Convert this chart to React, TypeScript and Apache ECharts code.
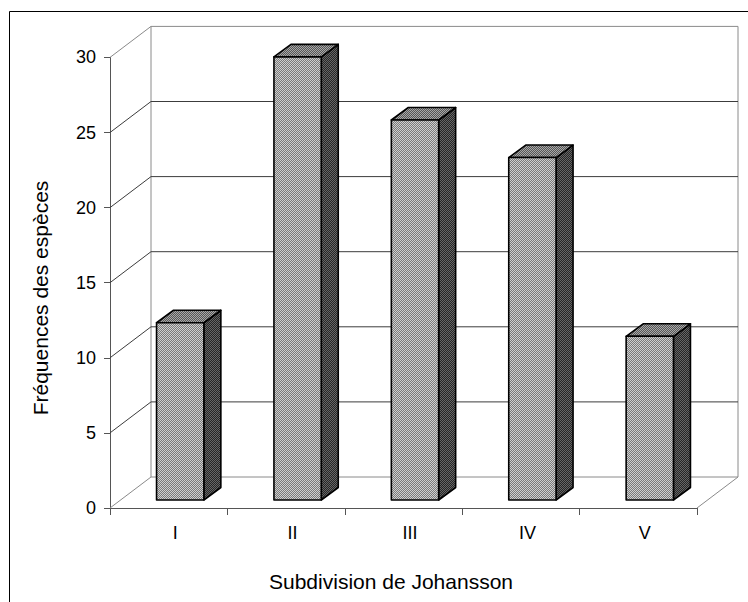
import { useEffect, useRef } from 'react';
import * as echarts from 'echarts';

const categories = ['I', 'II', 'III', 'IV', 'V'];
const frequencies = [11.8, 29.5, 25.3, 22.8, 10.9];
const yTicks = [0, 5, 10, 15, 20, 25, 30];
const xTitle = 'Subdivision de Johansson';
const yTitle = 'Fréquences des espèces';

const FONT = '"Liberation Sans", Arial, sans-serif';
const DX = 41;
const DY = -31;
const FX = 11.5;
const FY = -8;
const SX = 17;
const SY = -12.5;
const WALL = '#8a8a8a';
const GRID = '#3c3c3c';

function makePattern(a: string, b: string) {
  const c = document.createElement('canvas');
  c.width = 2;
  c.height = 2;
  const ctx = c.getContext('2d')!;
  ctx.fillStyle = a;
  ctx.fillRect(0, 0, 2, 2);
  ctx.fillStyle = b;
  ctx.fillRect(1, 0, 1, 1);
  ctx.fillRect(0, 1, 1, 1);
  return { image: c, repeat: 'repeat', imageWidth: 2, imageHeight: 2 } as any;
}

export default function App() {
  const ref = useRef<HTMLDivElement>(null);
  useEffect(() => {
    if (!ref.current) return;
    const chart = echarts.init(ref.current, undefined, { renderer: 'svg' });
    const frontFill = makePattern('#cfcfcf', '#7a7a7a');
    const sideFill = makePattern('#666666', '#262626');
    const topFill = makePattern('#a8a8a8', '#565656');
    const yMin = yTicks[0];
    const yMax = yTicks[yTicks.length - 1];

    chart.setOption({
      animation: false,
      backgroundColor: '#fff',
      grid: { left: 110, right: 51, top: 57.4, bottom: 94, outerBoundsMode: 'none', containLabel: false },
      xAxis: {
        type: 'category',
        data: categories,
        boundaryGap: true,
        axisLine: { show: true, lineStyle: { color: '#555', width: 1 } },
        axisTick: { show: true, length: 7, inside: false, lineStyle: { color: '#555' } },
        axisLabel: { color: '#000', fontSize: 18, fontFamily: FONT, margin: 16, padding: [0, 0, 0, 13] },
        splitLine: { show: false },
      },
      yAxis: {
        type: 'value',
        min: yMin,
        max: yMax,
        interval: 5,
        axisLine: { show: true, lineStyle: { color: '#555', width: 1 } },
        axisTick: { show: true, length: 6, lineStyle: { color: '#555' } },
        axisLabel: { color: '#000', fontSize: 18, fontFamily: FONT, margin: 14 },
        splitLine: { show: false },
      },
      graphic: [
        {
          type: 'rect',
          silent: true,
          z: 0,
          shape: { x: 9.5, y: 11.5, width: 800, height: 700 },
          style: { fill: 'none', stroke: '#000', lineWidth: 1 },
        },
        {
          type: 'text',
          x: 391,
          y: 581,
          style: { text: xTitle, fontSize: 21, fontFamily: FONT, fill: '#000', align: 'center', verticalAlign: 'middle' },
        },
        {
          type: 'text',
          x: 40,
          y: 298,
          rotation: Math.PI / 2,
          style: { text: yTitle, fontSize: 21, fontFamily: FONT, fill: '#000', align: 'center', verticalAlign: 'middle' },
        },
      ],
      series: [
        {
          type: 'custom',
          name: 'walls',
          clip: false,
          silent: true,
          z: 1,
          data: yTicks.map((v) => [0, v]),
          renderItem: (params: any, api: any) => {
            const cs = params.coordSys;
            const v = api.value(1);
            const y = api.coord([0, v])[1];
            const x0 = cs.x;
            const x1 = cs.x + cs.width;
            const edge = v === yMin || v === yMax;
            const children: any[] = [
              {
                type: 'polyline',
                shape: { points: [[x0, y], [x0 + DX, y + DY], [x1 + DX, y + DY]] },
                style: { fill: 'none', stroke: edge ? WALL : GRID, lineWidth: 1 },
              },
            ];
            if (v === yMin) {
              const yTop = api.coord([0, yMax])[1];
              children.push(
                { type: 'line', shape: { x1: x1, y1: y, x2: x1 + DX, y2: y + DY }, style: { stroke: WALL, lineWidth: 1 } },
                { type: 'line', shape: { x1: x0 + DX, y1: y + DY, x2: x0 + DX, y2: yTop + DY }, style: { stroke: WALL, lineWidth: 1 } },
                { type: 'line', shape: { x1: x1 + DX, y1: y + DY, x2: x1 + DX, y2: yTop + DY }, style: { stroke: WALL, lineWidth: 1 } }
              );
            }
            return { type: 'group', children };
          },
        },
        {
          type: 'custom',
          name: 'Fréquences',
          clip: false,
          z: 3,
          data: frequencies.map((v, i) => [i, v]),
          renderItem: (params: any, api: any) => {
            const i = api.value(0);
            const v = api.value(1);
            const b = api.coord([i, 0]);
            const t = api.coord([i, v]);
            const w = api.size([1, 0])[0] * 0.403;
            const xl = b[0] - w / 2 + FX;
            const xr = xl + w;
            const yb = b[1] + FY;
            const yt = t[1] + FY;
            const stroke = { stroke: '#000', lineWidth: 1.6, lineJoin: 'round' };
            return {
              type: 'group',
              children: [
                {
                  type: 'polygon',
                  shape: { points: [[xr, yb], [xr + SX, yb + SY], [xr + SX, yt + SY], [xr, yt]] },
                  style: { fill: sideFill, ...stroke },
                },
                {
                  type: 'polygon',
                  shape: { points: [[xl, yt], [xl + SX, yt + SY], [xr + SX, yt + SY], [xr, yt]] },
                  style: { fill: topFill, ...stroke },
                },
                {
                  type: 'rect',
                  shape: { x: xl, y: yt, width: w, height: yb - yt },
                  style: { fill: frontFill, ...stroke },
                },
              ],
            };
          },
        },
      ],
    });
    return () => chart.dispose();
  }, []);
  return <div ref={ref} style={{ position: 'absolute', left: 0, top: 0, width: 748, height: 602 }} />;
}
